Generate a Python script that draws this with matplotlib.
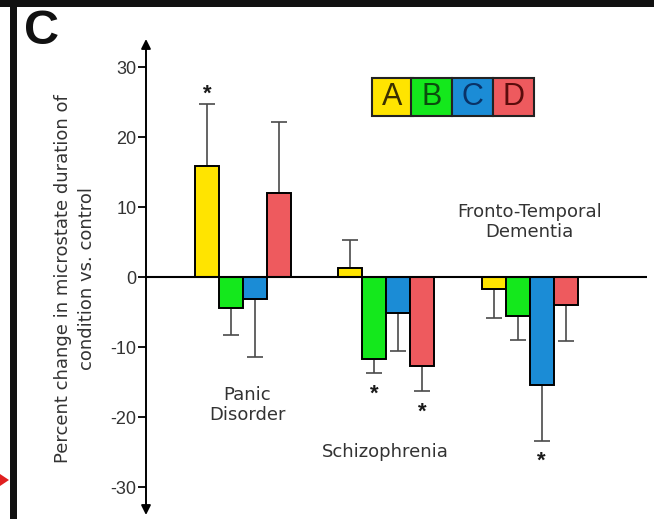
import numpy as np
import matplotlib
matplotlib.use("Agg")
from matplotlib import pyplot as plt
from matplotlib.patches import Rectangle, Polygon

plt.rcParams['font.family'] = ['Liberation Sans', 'DejaVu Sans']
plt.rcParams['axes.unicode_minus'] = False

groups = ['Panic\nDisorder', 'Schizophrenia', 'Fronto-Temporal\nDementia']
states = ['A', 'B', 'C', 'D']
colors = ['#FFE400', '#14E81C', '#1B8CD6', '#EE5A5E']
text_colors = ['#3a3000', '#0b4d0e', '#0a3266', '#5a0c0c']

# percent change per microstate (rows: groups, cols: A-D)
values = np.array([[15.8, -4.4, -3.2, 12.0],
                   [1.3, -11.7, -5.1, -12.7],
                   [-1.7, -5.6, -15.4, -4.0]])
# one-sided error (distance from bar end)
errors = np.array([[8.9, 3.9, 8.2, 10.1],
                   [4.0, 2.0, 5.5, 3.6],
                   [4.2, 3.4, 8.0, 5.1]])
signif = np.array([[1, 0, 0, 0],
                   [0, 1, 0, 1],
                   [0, 0, 1, 0]])

fig = plt.figure(figsize=(6.54, 5.19), dpi=100)
W, H = 654, 519
ax = fig.add_axes([146 / W, 4 / H, 501 / W, 476 / H])
ax.set_ylim(-34, 34)
ax.set_xlim(-0.677, 2.82)

w = 0.1675
x = np.arange(len(groups))
for j in range(4):
    xs = x + (j - 1.5) * w
    v = values[:, j]
    e = errors[:, j]
    ax.bar(xs, v, w, color=colors[j], edgecolor='black', linewidth=1.4, zorder=3)
    lower = np.where(v < 0, e, 0)
    upper = np.where(v >= 0, e, 0)
    ax.errorbar(xs, v, yerr=[lower, upper], fmt='none', ecolor='#4a4a4a',
                elinewidth=1.2, capsize=6, capthick=1.2, zorder=2)
    for i in range(len(groups)):
        if signif[i, j]:
            end = v[i] + (e[i] if v[i] >= 0 else -e[i])
            off = 7 if v[i] >= 0 else -15
            ax.annotate('*', (xs[i], end), xytext=(0, off), textcoords='offset points',
                        ha='center', va='center', fontsize=16, color='#1a1a1a',
                        fontweight='bold')

ax.axhline(0, color='black', linewidth=1.5, zorder=4)

for s in ax.spines.values():
    s.set_visible(False)
ax.set_xticks([])
ax.set_yticks(np.arange(-30, 31, 10))
ax.tick_params(axis='y', length=6, width=1.3, pad=1, labelsize=13, labelcolor='#333333')
ax.annotate('', xy=(0, 1), xytext=(0, 0), xycoords='axes fraction',
            arrowprops=dict(arrowstyle='<|-|>', color='black', lw=1.4,
                            mutation_scale=14, shrinkA=0, shrinkB=0))

# group labels
lab = dict(ha='center', va='center', fontsize=13, color='#333333',
           family=['DejaVu Sans'], linespacing=1.15)
ax.text(0.03, -18.3, groups[0], **lab)
ax.text(0.99, -25.0, groups[1], **lab)
ax.text(2.0, 7.8, groups[2], **lab)

# legend boxes
bx = [372, 411, 452, 493]
for j in range(4):
    fig.patches.append(Rectangle((bx[j] / W, 1 - 116 / H), 41 / W, 38 / H,
                                 transform=fig.transFigure, facecolor=colors[j],
                                 edgecolor='#222222', linewidth=1.5))
    fig.text((bx[j] + 20.5) / W, 1 - 97 / H, states[j], ha='center', va='center',
             fontsize=22, color=text_colors[j])

fig.text(75 / W, 1 - 279 / H, 'Percent change in microstate duration of\ncondition vs. control',
         rotation=90, ha='center', va='center', fontsize=13, color='#333333',
         family=['DejaVu Sans'], linespacing=1.45)

fig.text(24 / W, 1 - 32 / H, 'C', ha='left', va='center', fontsize=35,
         fontweight='bold', color='#111111')

# panel frame
fig.patches.append(Rectangle((0, 1 - 7 / H), 1, 7 / H, transform=fig.transFigure,
                             facecolor='#111111', edgecolor='none'))
fig.patches.append(Rectangle((10 / W, 0), 7 / W, 1, transform=fig.transFigure,
                             facecolor='#111111', edgecolor='none'))
fig.patches.append(Polygon([(0, 1 - 474 / H), (0, 1 - 486 / H), (9 / W, 1 - 480 / H)],
                           closed=True, transform=fig.transFigure,
                           facecolor='#e02020', edgecolor='none'))

fig.savefig('out.png', dpi=100)
